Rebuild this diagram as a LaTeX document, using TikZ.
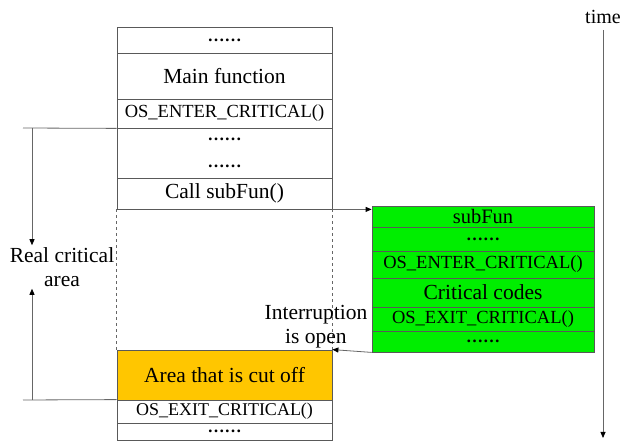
\documentclass[tikz,border=0pt]{standalone}
\usepackage{fontspec}
\setmainfont{Liberation Serif}
\usetikzlibrary{arrows.meta}
\definecolor{cutoff}{HTML}{FFC600}
\definecolor{subgreen}{HTML}{00EE00}
\tikzset{
    cell/.style={draw=black!65, line width=0.8pt, rectangle, inner sep=0pt,
        font=\fontsize{21.5}{23}\selectfont},
    oscell/.style={cell, font=\fontsize{18.5}{20}\selectfont},
    dotcell/.style={cell, font=\fontsize{17}{18}\bfseries},
    flow/.style={draw=black!60, line width=0.8pt, -{Triangle[length=6pt,width=5pt,color=black]}},
}
\begin{document}
\begin{tikzpicture}[x=1pt, y=-1pt]
        \useasboundingbox (0,0) rectangle (622,443);
        % main function column
        \node[dotcell, minimum width=215pt, minimum height=26pt] (mdotsa) at (224.5,40) {……};
        \node[cell, minimum width=215pt, minimum height=46pt] (mmain) at (224.5,76) {Main function};
        \node[oscell, minimum width=215pt, minimum height=29pt] (menter) at (224.5,113.5) {OS\_ENTER\_CRITICAL()};
        \node[dotcell, minimum width=215pt, minimum height=50pt, align=center] (mdotsb) at (224.5,153) {……\\[9pt]……};
        \node[cell, minimum width=215pt, minimum height=31pt] (mcall) at (224.5,193.5) {Call subFun()};
        \node[cell, fill=cutoff, minimum width=215pt, minimum height=50pt] (mcut) at (224.5,375) {Area that is cut off};
        \node[oscell, minimum width=215pt, minimum height=23pt, font=\fontsize{18}{19}\selectfont] (mexit) at (224.5,411.5) {OS\_EXIT\_CRITICAL()};
        \node[dotcell, minimum width=215pt, minimum height=17pt] (mdotsc) at (224.5,431.5) {……};
        \draw[black!60, line width=0.8pt, dashed] (mcall.south west) -- (mcut.north west);
        \draw[black!60, line width=0.8pt, dashed] (mcall.south east) -- (mcut.north east);
        % subFun column
        \node[cell, fill=subgreen, minimum width=222pt, minimum height=21pt, font=\fontsize{20.5}{22}\selectfont] (ssub) at (483,216.5) {subFun};
        \node[dotcell, fill=subgreen, minimum width=222pt, minimum height=24pt] (sdotsa) at (483,239) {……};
        \node[oscell, fill=subgreen, minimum width=222pt, minimum height=27pt] (senter) at (483,264.5) {OS\_ENTER\_CRITICAL()};
        \node[cell, fill=subgreen, minimum width=222pt, minimum height=29pt] (scrit) at (483,292.5) {Critical codes};
        \node[oscell, fill=subgreen, minimum width=222pt, minimum height=24pt] (sexit) at (483,319) {OS\_EXIT\_CRITICAL()};
        \node[dotcell, fill=subgreen, minimum width=222pt, minimum height=21pt] (sdotsb) at (483,341.5) {……};
        % calls
        \draw[flow] (mcall.south east) -- (mcall.south east -| ssub.west);
        \draw[flow] (sdotsb.south west) -- (mcut.north east);
        \node[font=\fontsize{21.5}{24}\selectfont, align=center] (open) at (316,327) {Interruption\\is open};
        % real critical area
        \node[fill=white, inner sep=2pt, align=center, font=\fontsize{21.5}{24}\selectfont] (real) at (62,267) {Real critical\\area};
        \coordinate (enterl) at (23,128);
        \coordinate (exitl) at (23,400);
        \coordinate (downs) at (32,128);
        \coordinate (ups) at (32,400);
        \draw[black!60, line width=0.8pt] (enterl) -- (menter.south west);
        \draw[black!60, line width=0.8pt] (exitl) -- (mexit.north west);
        \draw[flow] (downs) -- (downs |- real.north);
        \draw[flow] (ups) -- (ups |- real.south);
        % time axis
        \node[font=\fontsize{20}{22}\selectfont] (time) at (603,17) {time};
        \coordinate (tstart) at (603,30);
        \coordinate (tend) at (603,438);
        \draw[flow] (tstart) -- (tend);
\end{tikzpicture}
\end{document}
